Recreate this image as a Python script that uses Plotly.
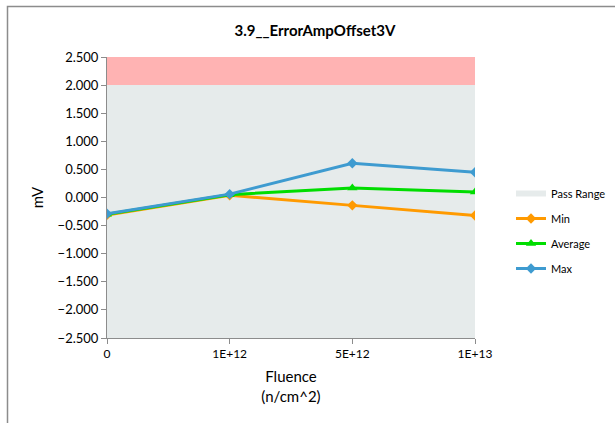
import plotly.graph_objects as go

categories = ["0", "1E+12", "5E+12", "1E+13"]
min_vals = [-0.31, 0.04, -0.14, -0.32]
avg_vals = [-0.30, 0.05, 0.17, 0.10]
max_vals = [-0.29, 0.06, 0.61, 0.45]
pass_low = -2.5
pass_high = 2.0
fail_high = 2.5
y_ticks = [-2.5, -2.0, -1.5, -1.0, -0.5, 0.0, 0.5, 1.0, 1.5, 2.0, 2.5]

font = "Lato, 'Open Sans', sans-serif"
W, H = 615, 423
L, R, T, B = 107, 140, 57, 85
pw, ph = W - L - R, H - T - B

xs = list(range(len(categories)))
fig = go.Figure()

# fail region (not in legend)
fig.add_trace(go.Scatter(
    x=[xs[0], xs[-1], xs[-1], xs[0], xs[0]],
    y=[pass_high, pass_high, fail_high, fail_high, pass_high],
    fill="toself", fillcolor="#FFB3B3", mode="none", showlegend=False,
    hoverinfo="skip"))
# pass range
fig.add_trace(go.Scatter(
    x=[xs[0], xs[-1], xs[-1], xs[0], xs[0]],
    y=[pass_low, pass_low, pass_high, pass_high, pass_low],
    fill="toself", fillcolor="#E6EBEB", mode="none", name="Pass Range",
    legendgroup="g0"))

fig.add_trace(go.Scatter(x=xs, y=min_vals, name="Min", mode="lines+markers",
                         legendgroup="g1",
                         line=dict(color="#FF9A00", width=3),
                         marker=dict(symbol="diamond", size=8, color="#FF9A00")))
fig.add_trace(go.Scatter(x=xs, y=avg_vals, name="Average", mode="lines+markers",
                         legendgroup="g2",
                         line=dict(color="#00DD00", width=3),
                         marker=dict(symbol="triangle-up", size=9, color="#00DD00")))
fig.add_trace(go.Scatter(x=xs, y=max_vals, name="Max", mode="lines+markers",
                         legendgroup="g3",
                         line=dict(color="#3E9BD0", width=3),
                         marker=dict(symbol="diamond", size=8, color="#3E9BD0")))

# outer chart frame (left and top edges visible, rest beyond the view)
fig.add_shape(type="rect", xref="paper", yref="paper",
              x0=(7.5 - L) / pw, x1=(W - L + 20) / pw,
              y0=-(B + 20) / ph, y1=1 + (T - 6.5) / ph,
              line=dict(color="#8C8C8C", width=1.5), fillcolor="rgba(0,0,0,0)",
              layer="above")

fig.update_layout(
    width=W, height=H,
    margin=dict(l=L, r=R, t=T, b=B, autoexpand=False),
    paper_bgcolor="white", plot_bgcolor="white",
    font=dict(family=font, size=12, color="#000000"),
    title=dict(text="<b>3.9__ErrorAmpOffset3V</b>", x=315 / W, xref="container",
               xanchor="center", y=1 - 31 / H, yanchor="middle",
               font=dict(size=15, family=font), automargin=False),
    xaxis=dict(range=[0, len(categories) - 1], tickmode="array", tickvals=xs,
               ticktext=categories, showgrid=False, zeroline=False,
               showline=True, linecolor="#8C8C8C", linewidth=1,
               ticks="outside", ticklen=5, tickcolor="#8C8C8C",
               tickfont=dict(size=12), automargin=False,
               title=dict(text="Fluence<br>(n/cm^2)", font=dict(size=15), standoff=11)),
    yaxis=dict(range=[pass_low, fail_high], tickmode="array", tickvals=y_ticks,
               tickformat=".3f", showgrid=False, zeroline=False,
               showline=True, linecolor="#8C8C8C", linewidth=1,
               ticks="outside", ticklen=5, tickcolor="#8C8C8C",
               tickfont=dict(size=13), automargin=False,
               title=dict(text="mV", font=dict(size=15), standoff=10)),
    legend=dict(x=1 + (511 - L - pw) / pw, xanchor="left", y=(T + ph - 231) / ph,
                yanchor="middle",
                font=dict(size=11), tracegroupgap=6, itemwidth=30,
                bgcolor="rgba(0,0,0,0)"),
    showlegend=True,
)

fig.write_html("out.html", config={"displayModeBar": False},
               post_script="document.body.style.margin='0';")
